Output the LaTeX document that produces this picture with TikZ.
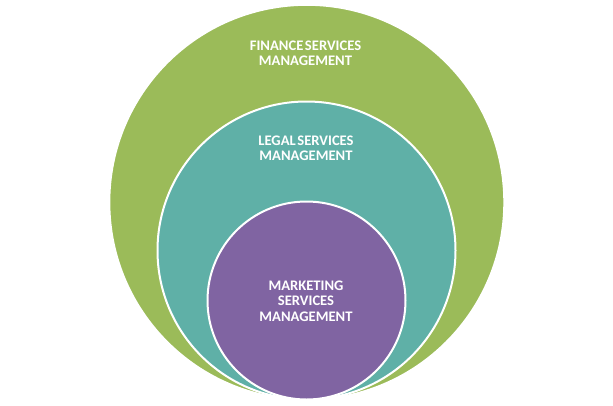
\documentclass[tikz,border=0pt]{standalone}
\usepackage{fontspec}
\setmainfont{Carlito}
\definecolor{cgreen}{HTML}{9BBB59}
\definecolor{cteal}{HTML}{5FB0A7}
\definecolor{cpurple}{HTML}{8064A2}
\newcommand{\lblfont}{\fontsize{14.6}{15.3}\selectfont\bfseries\spaceskip=1.6pt plus 0.5pt\relax}
\begin{document}
\begin{tikzpicture}[x=1pt,y=-1pt,
  ring/.style={draw=white,line width=2pt},
  lbl/.style={text=white,font=\lblfont,align=center,inner sep=0pt}]
\useasboundingbox (0,0) rectangle (613,405);
\fill[white] (0,0) rectangle (613,405);
\node[ring,fill=cgreen,circle,minimum size=395pt,inner sep=0pt] (fin) at (306.8,202.3) {};
\node[ring,fill=cteal,circle,minimum size=298pt,inner sep=0pt] (leg) at (306.5,250.5) {};
\node[ring,fill=cpurple,circle,minimum size=198pt,inner sep=0pt] (mkt) at (306.5,300.5) {};
\node[lbl] (tfin) at (305.5,53.5) {FINANCE SERVICES\\MANAGEMENT};
\node[lbl] (tleg) at (306,148) {LEGAL SERVICES\\MANAGEMENT};
\node[lbl] (tmkt) at (306,301) {MARKETING\\SERVICES\\MANAGEMENT};
\end{tikzpicture}
\end{document}
